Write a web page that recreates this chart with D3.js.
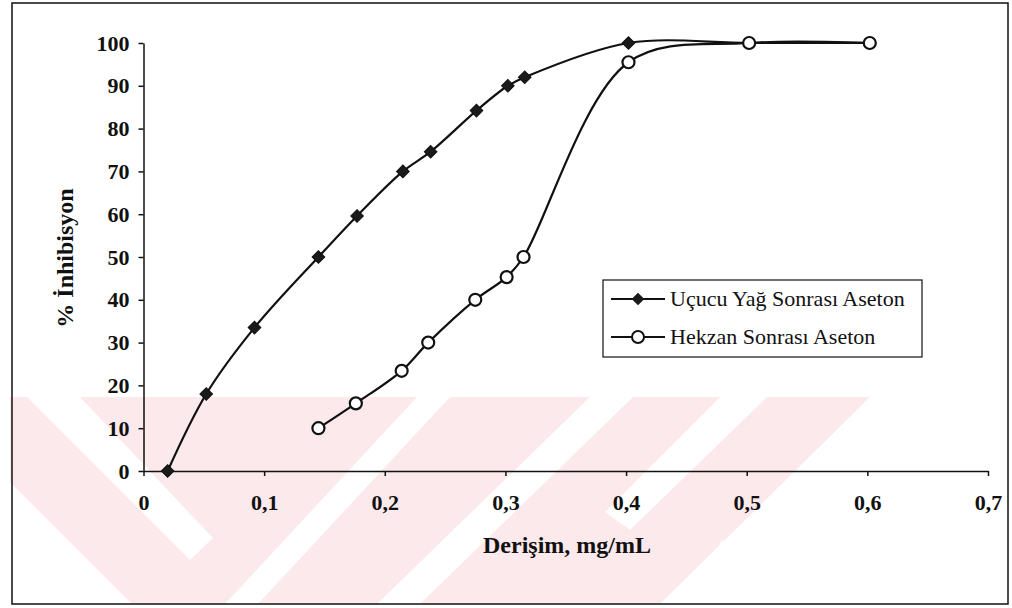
<!DOCTYPE html>
<html lang="tr">
<head>
  <meta charset="UTF-8">
  <title>% İnhibisyon - Derişim</title>
  <style>
    body {
      margin: 0;
      background: #fff;
      overflow: hidden;
    }
    svg {
      display: block;
      font-family: "Liberation Serif", "Times New Roman", serif;
    }
    .axis path, .axis line {
      stroke: #111;
      stroke-width: 1.5px;
    }
    .axis text {
      fill: #111;
      font-size: 22px;
      font-weight: bold;
      font-family: "Liberation Serif", serif;
    }
    .title {
      fill: #111;
      font-size: 24px;
      font-weight: bold;
      font-family: "Liberation Serif", serif;
    }
    .legend text {
      fill: #111;
      font-size: 22px;
      font-family: "Liberation Serif", serif;
    }
  </style>
</head>
<body>
  <svg width="1012" height="608"></svg>

  <script src="https://d3js.org/d3.v7.min.js"></script>
  <script>
    // Series data
    const ucucuX = [0.02, 0.052, 0.092, 0.145, 0.177, 0.215, 0.238, 0.276, 0.302, 0.316, 0.402, 0.502, 0.602];
    const ucucuY = [0, 18, 33.5, 50, 59.6, 70, 74.6, 84.2, 90, 92, 100, 100, 100];
    const hekzanX = [0.145, 0.176, 0.214, 0.236, 0.275, 0.301, 0.315, 0.402, 0.502, 0.602];
    const hekzanY = [10, 15.8, 23.4, 30, 40, 45.3, 50, 95.5, 100, 100];

    const seriesNames = ["Uçucu Yağ Sonrası Aseton", "Hekzan Sonrası Aseton"];
    const xTicks = [0, 0.1, 0.2, 0.3, 0.4, 0.5, 0.6, 0.7];
    const yTicks = [0, 10, 20, 30, 40, 50, 60, 70, 80, 90, 100];
    const xTitle = "Derişim, mg/mL";
    const yTitle = "% İnhibisyon";

    // faint watermark in the scan (background decoration, pixel coords)
    const wmPink = [[10, 397], [870, 397], [660, 604], [10, 604]];
    const wmWhite = [
      [[27, 397], [80, 397], [213, 538], [190, 560]],
      [[10, 482], [10, 604], [132, 604]],
      [[417, 397], [450, 397], [258, 604], [225, 604]],
      [[590, 397], [633, 397], [420, 604], [377, 604]],
      [[720, 397], [767, 397], [630, 530], [605, 512]],
      [[722, 540], [690, 604], [760, 604]]
    ];

    const svg = d3.select("svg");

    const x = d3.scaleLinear().domain([0, 0.7]).range([143.5, 988]);
    const y = d3.scaleLinear().domain([0, 100]).range([471, 43]);

    // watermark
    const wm = svg.append("g").attr("class", "watermark");
    wm.append("polygon")
      .attr("points", wmPink.map(p => p.join(",")).join(" "))
      .attr("fill", "#fce9ec");
    wm.selectAll("polygon.gap")
      .data(wmWhite)
      .join("polygon")
      .attr("class", "gap")
      .attr("points", d => d.map(p => p.join(",")).join(" "))
      .attr("fill", "#fff");

    // outer frame
    svg.append("rect")
      .attr("x", 12).attr("y", 3)
      .attr("width", 996).attr("height", 601)
      .attr("fill", "none")
      .attr("stroke", "#111")
      .attr("stroke-width", 1.5);

    const fmt = d => d === 0 ? "0" : d3.format(".1f")(d).replace(".", ",");

    svg.append("g")
      .attr("class", "axis x")
      .attr("transform", `translate(0,${y(0)})`)
      .call(d3.axisBottom(x).tickValues(xTicks).tickFormat(fmt).tickSize(5).tickSizeOuter(0).tickPadding(18));

    svg.append("g")
      .attr("class", "axis y")
      .attr("transform", `translate(${x(0)},0)`)
      .call(d3.axisLeft(y).tickValues(yTicks).tickSize(5).tickSizeOuter(0).tickPadding(9));

    // titles
    svg.append("text")
      .attr("class", "title")
      .attr("x", 567).attr("y", 553)
      .attr("text-anchor", "middle")
      .text(xTitle);

    svg.append("text")
      .attr("class", "title")
      .attr("transform", "translate(73,258) rotate(-90)")
      .attr("text-anchor", "middle")
      .text(yTitle);

    // lines
    const ucucu = ucucuX.map((v, i) => [v, ucucuY[i]]);
    const hekzan = hekzanX.map((v, i) => [v, hekzanY[i]]);

    const line = d3.line()
      .x(d => x(d[0]))
      .y(d => y(d[1]))
      .curve(d3.curveCatmullRom.alpha(0.5));

    svg.append("path")
      .datum(ucucu)
      .attr("d", line)
      .attr("fill", "none")
      .attr("stroke", "#111")
      .attr("stroke-width", 2.2);

    svg.append("path")
      .datum(hekzan)
      .attr("d", line)
      .attr("fill", "none")
      .attr("stroke", "#111")
      .attr("stroke-width", 2.2);

    const diamond = d3.symbol().type(d3.symbolSquare).size(80);

    svg.append("g")
      .selectAll("path")
      .data(ucucu)
      .join("path")
      .attr("d", diamond)
      .attr("transform", d => `translate(${x(d[0])},${y(d[1])}) rotate(45)`)
      .attr("fill", "#1a1a1a")
      .attr("stroke", "#111")
      .attr("stroke-width", 1);

    svg.append("g")
      .selectAll("circle")
      .data(hekzan)
      .join("circle")
      .attr("cx", d => x(d[0]))
      .attr("cy", d => y(d[1]))
      .attr("r", 6)
      .attr("fill", "#fff")
      .attr("stroke", "#111")
      .attr("stroke-width", 2.2);

    // legend
    const legend = svg.append("g").attr("class", "legend");
    legend.append("rect")
      .attr("x", 603).attr("y", 280)
      .attr("width", 319).attr("height", 77)
      .attr("fill", "#fff")
      .attr("stroke", "#111")
      .attr("stroke-width", 1.2);

    const rows = legend.selectAll("g.row")
      .data(seriesNames)
      .join("g")
      .attr("class", "row")
      .attr("transform", (d, i) => `translate(0,${299 + i * 38})`);

    rows.append("line")
      .attr("x1", 611).attr("x2", 665)
      .attr("stroke", "#111")
      .attr("stroke-width", 2);

    rows.filter((d, i) => i === 0).append("path")
      .attr("d", diamond)
      .attr("transform", "translate(638,0) rotate(45)")
      .attr("fill", "#1a1a1a");

    rows.filter((d, i) => i === 1).append("circle")
      .attr("cx", 638).attr("r", 6)
      .attr("fill", "#fff")
      .attr("stroke", "#111")
      .attr("stroke-width", 2);

    rows.append("text")
      .attr("x", 670).attr("y", 7)
      .text(d => d);
  </script>
</body>
</html>
